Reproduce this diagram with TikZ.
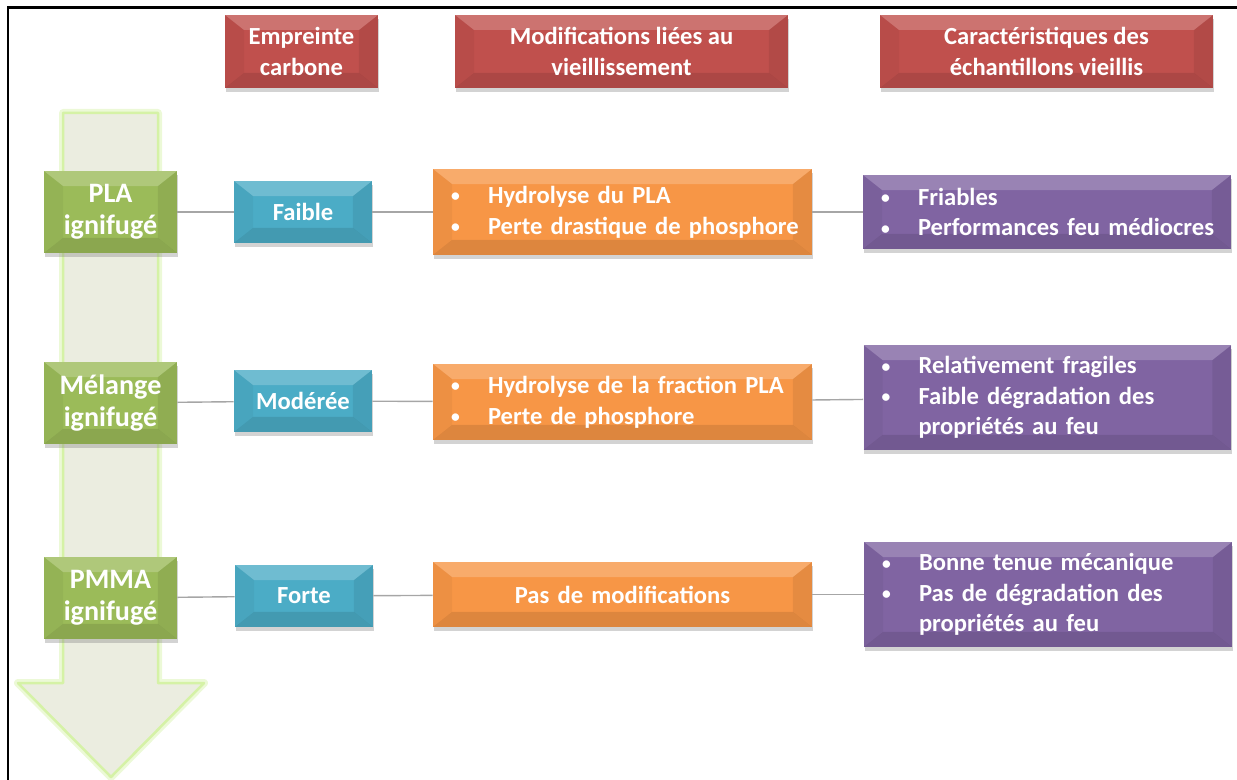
\documentclass[tikz,border=0pt]{standalone}
\usepackage{fontspec}
\setmainfont{Carlito}
\usepackage{xcolor}
\usetikzlibrary{shadows}
\definecolor{hdred}{HTML}{C0504D}
\definecolor{matgreen}{HTML}{9BBB59}
\definecolor{carbblue}{HTML}{4BACC6}
\definecolor{modorange}{HTML}{F79646}
\definecolor{carpurple}{HTML}{8064A2}
\definecolor{arrfill}{HTML}{EBEDE0}
\definecolor{arrglow}{HTML}{D5F2A6}
\definecolor{linkgray}{HTML}{A6A6A6}
\newcommand{\puce}{\hspace*{.17cm}\makebox[.74cm][l]{\raisebox{.12ex}{\fontsize{10}{10}\selectfont\textbullet}}}
\newcommand{\suite}{\hspace*{.91cm}}
\begin{document}
\begin{tikzpicture}[x=0.02cm, y=-0.02cm,
      bevel/.style={path picture={
        \fill[white, opacity=.2] (path picture bounding box.north west) -- (path picture bounding box.north east)
          -- ([xshift=-.38cm, yshift=-.3cm]path picture bounding box.north east) -- ([xshift=.38cm, yshift=-.3cm]path picture bounding box.north west) -- cycle;
        \fill[black, opacity=.04] (path picture bounding box.north west) -- ([xshift=.38cm, yshift=-.3cm]path picture bounding box.north west)
          -- ([xshift=.38cm, yshift=.3cm]path picture bounding box.south west) -- (path picture bounding box.south west) -- cycle;
        \fill[black, opacity=.07] (path picture bounding box.north east) -- ([xshift=-.38cm, yshift=-.3cm]path picture bounding box.north east)
          -- ([xshift=-.38cm, yshift=.3cm]path picture bounding box.south east) -- (path picture bounding box.south east) -- cycle;
        \fill[black, opacity=.1] (path picture bounding box.south west) -- ([xshift=.38cm, yshift=.3cm]path picture bounding box.south west)
          -- ([xshift=-.38cm, yshift=.3cm]path picture bounding box.south east) -- (path picture bounding box.south east) -- cycle;
      }},
      box/.style={rectangle, draw=none, text=white, align=center, inner sep=0pt, bevel,
                  font=\bfseries\fontsize{14}{17.5}\selectfont,
                  drop shadow={shadow xshift=.5pt, shadow yshift=-2.5pt, opacity=.35}},
      head/.style={box, fill=hdred, minimum height=1.46cm},
      mat/.style={box, fill=matgreen, minimum width=2.66cm, minimum height=1.64cm,
                  font=\bfseries\fontsize{16}{18.5}\selectfont},
      carb/.style={box, fill=carbblue, minimum width=2.76cm, minimum height=1.24cm},
      modif/.style={box, fill=modorange, minimum width=7.58cm, text width=7.2cm,
                    inner xsep=.19cm, align=left},
      propr/.style={box, fill=carpurple, minimum width=7.36cm, text width=6.98cm,
                    inner xsep=.19cm, align=left},
      link/.style={draw=linkgray, line width=.8pt}
    ]
    \useasboundingbox (0,0) rectangle (1237,780);
    % Frame
    \draw[line width=.06cm] (8,780) -- (8,8) -- (1237,8);
    % Arrow
    \draw[arrglow, line width=.05cm, line join=round, fill=arrfill,
          preaction={draw=arrglow!45, line width=.16cm, line join=round}]
      (63,113) -- (158,113) -- (158,683) -- (204,683) -- (111,777) -- (18,683) -- (63,683) -- cycle;
    % Headers
    \node[head, minimum width=3.06cm] (hcarb) at (301.5,51.5) {Empreinte\\carbone};
    \node[head, minimum width=6.66cm] (hmod)  at (621.5,51.5) {Modifications liées au\\vieillissement};
    \node[head, minimum width=6.66cm] (hcar)  at (1046.5,51.5) {Caractéristiques des\\échantillons vieillis};
    % Materials
    \node[mat] (pla)    at (110.5,212) {PLA\\ignifugé};
    \node[mat] (melange) at (110.5,403) {Mélange\\ignifugé};
    \node[mat] (pmma)   at (110.5,598) {PMMA\\ignifugé};
    % Carbon footprint
    \node[carb] (faible)  at (303,212) {Faible};
    \node[carb] (moderee) at (303,401) {Modérée};
    \node[carb] (forte)   at (304,596) {Forte};
    % Ageing
    \node[modif, minimum height=1.72cm] (modpla) at (622.5,212)
      {\puce Hydrolyse du PLA\\\puce Perte drastique de phosphore};
    \node[modif, minimum height=1.52cm] (modmel) at (622.5,402)
      {\puce Hydrolyse de la fraction PLA\\\puce Perte de phosphore};
    \node[modif, minimum height=1.30cm, align=center] (modpmma) at (622.5,594.5)
      {Pas de modifications};
    % Properties
    \node[propr, minimum height=1.48cm] (carpla) at (1047,212)
      {\puce Friables\\\puce Performances feu médiocres};
    \node[propr, minimum height=2.10cm] (carmel) at (1047.5,397.5)
      {\puce Relativement fragiles\\\puce Faible dégradation des\\\suite propriétés au feu};
    \node[propr, minimum height=2.10cm] (carpmma) at (1048,594.5)
      {\puce Bonne tenue mécanique\\\puce Pas de dégradation des\\\suite propriétés au feu};
    % Links
    \draw[link] (pla) -- (faible);
    \draw[link] (faible) -- (modpla);
    \draw[link] (modpla) -- (carpla);
    \draw[link] (melange) -- (moderee);
    \draw[link] (moderee) -- (modmel);
    \draw[link] (modmel) -- (carmel);
    \draw[link] (pmma) -- (forte);
    \draw[link] (forte) -- (modpmma);
    \draw[link] (modpmma) -- (carpmma);
  \end{tikzpicture}
\end{document}
